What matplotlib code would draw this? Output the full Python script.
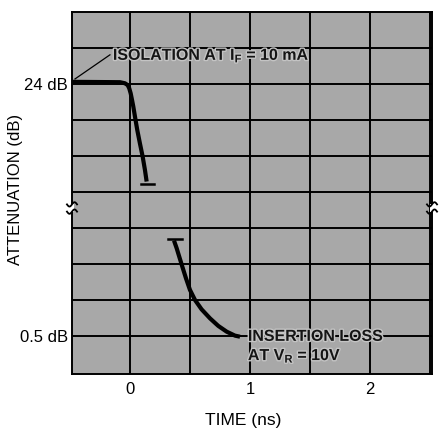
import matplotlib
matplotlib.use("Agg")
import matplotlib.pyplot as plt
import matplotlib.patheffects as pe
import numpy as np

plt.rcParams['font.family'] = ['Liberation Sans', 'DejaVu Sans']
plt.rcParams['mathtext.default'] = 'regular'

# Data (time in ns, attenuation in grid units; 8 = 24 dB, 1 = 0.5 dB)
iso_t = [-0.483, -0.083, -0.042, -0.019, -0.006, 0.006, 0.017, 0.028, 0.042,
         0.061, 0.083, 0.106, 0.125, 0.139]
iso_y = [8.06, 8.05, 8.02, 7.97, 7.88, 7.74, 7.56, 7.37, 7.09,
         6.72, 6.35, 5.98, 5.61, 5.29]
ins_t = [0.367, 0.389, 0.411, 0.436, 0.467, 0.5, 0.542, 0.597, 0.667,
         0.736, 0.806, 0.875, 0.917]
ins_y = [3.65, 3.44, 3.20, 2.93, 2.60, 2.28, 2.0, 1.74, 1.49,
         1.28, 1.12, 1.01, 0.98]
x_ticks = [0, 1, 2]
x_ticklabels = ["0", "1", "2"]
y_ticks = [8, 1]
y_ticklabels = ["24 dB", "0.5 dB"]

fig = plt.figure(figsize=(4.40, 4.29), dpi=100)
ax = fig.add_axes([72/440, 1-374/429, 360/440, 362/429])
ax.set_facecolor('#a8a8a8')
ax.set_xlim(-0.483, 2.517)
ax.set_ylim(-0.056, 10)

for v in np.arange(0, 2.51, 0.5):
    ax.axvline(v, color='black', lw=1.4, zorder=1)
for h in range(1, 10):
    ax.axhline(h, color='black', lw=1.4, zorder=1)
for s in ax.spines.values():
    s.set_linewidth(1.4)

ax.plot(iso_t, iso_y, color='black', lw=3, solid_capstyle='butt',
        solid_joinstyle='round', zorder=3)
ax.plot(ins_t, ins_y, color='black', lw=3, solid_capstyle='butt',
        solid_joinstyle='round', zorder=3)
# end caps
ax.plot([0.092, 0.2], [5.22, 5.22], color='black', lw=1.8, zorder=3)
ax.plot([0.317, 0.433], [3.69, 3.69], color='black', lw=1.8, zorder=3)

halo = [pe.withStroke(linewidth=2.0, foreground='#c4c4c4')]
ax.plot([-0.458, -0.167], [8.14, 8.81], color='black', lw=0.9, zorder=3)
ax.text(-0.142, 8.8, "ISOLATION AT I$_F$ = 10 mA", fontsize=11.5, fontweight='bold',
        va='center', ha='left', color='#151515', path_effects=halo, zorder=4)
ax.text(0.983, 0.99, "INSERTION LOSS", fontsize=11.5, fontweight='bold',
        va='center', ha='left', color='#151515', path_effects=halo, zorder=4)
ax.text(0.983, 0.46, "AT V$_R$ = 10V", fontsize=11.5, fontweight='bold',
        va='center', ha='left', color='#151515', path_effects=halo, zorder=4)

ax.set_xticks(x_ticks)
ax.set_xticklabels(x_ticklabels, fontsize=12)
ax.set_yticks(y_ticks)
ax.set_yticklabels(y_ticklabels, fontsize=12)
ax.tick_params(axis='x', length=0, pad=6)
ax.tick_params(axis='y', length=0, pad=3)
ax.set_xlabel("TIME (ns)", fontsize=12.5)
ax.xaxis.set_label_coords(171/360, -0.108)
ax.set_ylabel("ATTENUATION (dB)", fontsize=12)
ax.yaxis.set_label_coords(-0.136, 0.511)

# axis break marks on both sides
yb = 1 - (208 - 12) / 362
for xa in [0.0, 1.0]:
    ax.add_patch(plt.Rectangle((xa-0.006, yb-0.012), 0.012, 0.024, transform=ax.transAxes,
                               facecolor='white', edgecolor='none', clip_on=False, zorder=5))
    u = np.linspace(-1, 1, 30)
    for dy in [0.01, -0.01]:
        ax.plot(xa + u*0.014, yb + dy + 0.006*np.sin(u*np.pi), transform=ax.transAxes,
                color='black', lw=1.3, clip_on=False, zorder=6)

fig.savefig("out.png", dpi=100)
